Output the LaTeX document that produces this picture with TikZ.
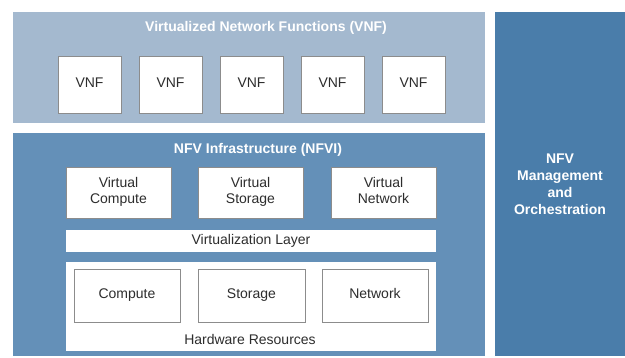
\documentclass[tikz,border=0pt]{standalone}
\usepackage{fontspec}
\setmainfont{Liberation Sans}
\usetikzlibrary{positioning}

\definecolor{vnfblue}{RGB}{164,185,207}
\definecolor{nfviblue}{RGB}{100,144,184}
\definecolor{manoblue}{RGB}{74,125,170}
\definecolor{boxline}{RGB}{140,140,140}
\definecolor{boxtext}{RGB}{45,45,45}

\tikzset{
  panel/.style={rectangle,inner sep=0pt,draw=none},
  paneltitle/.style={text=white,font=\fontsize{14}{17}\selectfont\bfseries,inner sep=0pt,align=center},
  whitebox/.style={rectangle,fill=white,draw=boxline,line width=0.8pt,inner sep=0pt,
    text=boxtext,font=\fontsize{14}{16}\selectfont,align=center},
  oneline/.style={text height=10pt,text depth=3pt},
  plainlabel/.style={text=boxtext,font=\fontsize{14}{16}\selectfont,inner sep=0pt}
}

\begin{document}
\begin{tikzpicture}[x=1pt,y=-1pt]
\useasboundingbox[fill=white] (0,0) rectangle (625,358);

% panels
\node[panel,fill=vnfblue,minimum width=472pt,minimum height=111pt](vnfpanel) at (249,67.5){};
\node[panel,fill=nfviblue,minimum width=472pt,minimum height=223pt](nfvipanel) at (249,244.5){};
\node[panel,fill=manoblue,minimum width=130pt,minimum height=344pt](manopanel) at (560,184){};

% titles
\node[paneltitle](vnftitle) at (266,28){Virtualized Network Functions (VNF)};
\node[paneltitle](nfvititle) at (258,150){NFV Infrastructure (NFVI)};
\node[paneltitle](manotitle) at (560,184.5){NFV\\Management\\and\\Orchestration};

% VNFs
\node[whitebox,oneline,minimum width=63pt,minimum height=57pt](vnfA) at (89.5,84.5){VNF};
\node[whitebox,oneline,minimum width=63pt,minimum height=57pt](vnfB) at (170.5,84.5){VNF};
\node[whitebox,oneline,minimum width=63pt,minimum height=57pt](vnfC) at (251.5,84.5){VNF};
\node[whitebox,oneline,minimum width=63pt,minimum height=57pt](vnfD) at (332.5,84.5){VNF};
\node[whitebox,oneline,minimum width=63pt,minimum height=57pt](vnfE) at (413.5,84.5){VNF};

% virtual resources
\node[whitebox,minimum width=105pt,minimum height=51pt](vcompute) at (118.5,192.5){Virtual\\Compute\strut};
\node[whitebox,minimum width=105pt,minimum height=51pt](vstorage) at (250.5,192.5){Virtual\\Storage\strut};
\node[whitebox,minimum width=105pt,minimum height=51pt](vnetwork) at (383.5,192.5){Virtual\\Network\strut};
\node[whitebox,oneline,draw=none,minimum width=370pt,minimum height=22pt](virtlayer) at (251,241){Virtualization Layer};

% hardware
\node[whitebox,draw=none,minimum width=370pt,minimum height=89pt](hwres) at (251,306.5){};
\node[whitebox,oneline,minimum width=106pt,minimum height=53pt](compute) at (127,295.5){Compute};
\node[whitebox,oneline,minimum width=107pt,minimum height=53pt](storage) at (251.5,295.5){Storage};
\node[whitebox,oneline,minimum width=106pt,minimum height=53pt](network) at (375,295.5){Network};
\node[plainlabel](hwlabel) at (250,339){Hardware Resources};
\end{tikzpicture}
\end{document}
